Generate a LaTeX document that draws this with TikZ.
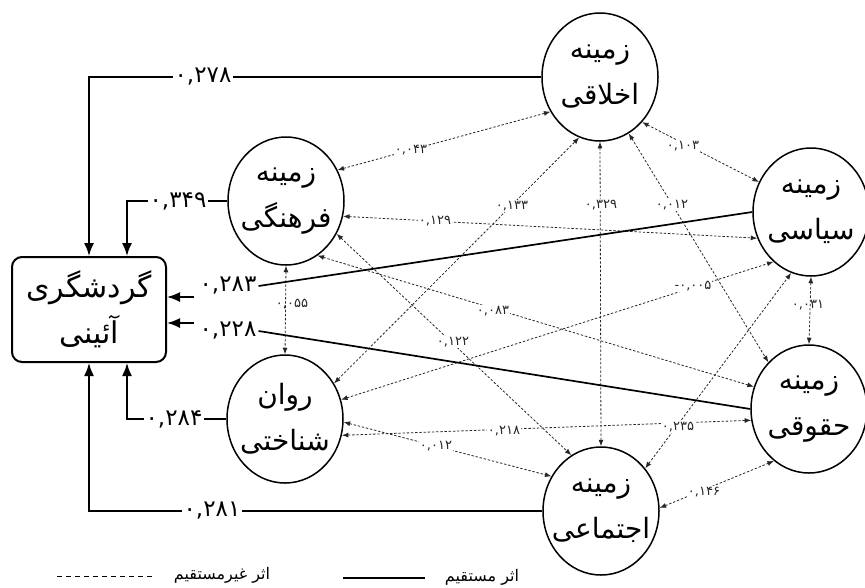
\documentclass[tikz,border=0pt]{standalone}
\usepackage{fontspec}
\usetikzlibrary{arrows.meta,shapes.geometric}
\TeXXeTstate=1
\newfontfamily\arabicfont[Script=Arabic]{DejaVu Sans}
\newcommand\farsi[1]{\beginR #1\endR}
\tikzset{
  fac/.style={ellipse, draw, line width=1.5pt, minimum width=116pt, minimum height=128pt, inner sep=0pt},
  factext/.style={inner sep=0pt, align=center, font=\arabicfont\fontsize{28}{46}\selectfont},
  mainbox/.style={rectangle, rounded corners=10pt, draw, line width=2pt, minimum width=154pt, minimum height=105pt, inner sep=0pt, align=center, font=\arabicfont\fontsize{30}{46}\selectfont},
  direct/.style={line width=1.7pt, -{Latex[length=13pt,width=10pt]}},
  directline/.style={line width=1.7pt},
  indirect/.style={line width=0.8pt, black!85, dash pattern=on 2.4pt off 1.8pt, {Latex[length=6.5pt,width=5pt]}-{Latex[length=6.5pt,width=5pt]}},
  dlab/.style={fill=white, inner sep=2pt, font=\arabicfont\fontsize{23}{23}\selectfont},
  ilab/.style={fill=white, inner sep=1pt, text=black!85, font=\arabicfont\fontsize{13}{13}\selectfont},
  ilabclear/.style={inner sep=1pt, text=black!85, font=\arabicfont\fontsize{13}{13}\selectfont},
  legtext/.style={font=\arabicfont\fontsize{16}{16}\selectfont},
}
\begin{document}
\begin{tikzpicture}[x=1pt,y=-1pt]
\useasboundingbox (0,0) rectangle (865,587);
% factor nodes
\node[fac] (A) at (600,77) {};
\node[fac] (F) at (286,201) {};
\node[fac] (S) at (811,212) {};
\node[fac] (H) at (809,409) {};
\node[fac] (E) at (601,511) {};
\node[fac] (R) at (285,419) {};
\node[factext] (At) at (A) {\farsi{زمینه}\\\farsi{اخلاقی}};
\node[factext] (Ft) at (F) {\farsi{زمینه}\\\farsi{فرهنگی}};
\node[factext] (St) at (S) {\farsi{زمینه}\\\farsi{سیاسی}};
\node[factext] (Ht) at (H) {\farsi{زمینه}\\\farsi{حقوقی}};
\node[factext] (Et) at (E) {\farsi{زمینه}\\\farsi{اجتماعی}};
\node[factext] (Rt) at (R) {\farsi{روان}\\\farsi{شناختی}};
\node[mainbox] (G) at (89,309.5) {\farsi{گردشگری}\\\farsi{آئینی}};
% indirect effects
\draw[indirect] (F.31) -- (A.215);
\draw[indirect] (F.-15) -- (S.206);
\draw[indirect] (F.-60) -- (H.158);
\draw[indirect] (F.-33) -- (E.118);
\draw[indirect] (F.south) -- (R.north);
\draw[indirect] (R.36) -- (A.251);
\draw[indirect] (A.south) -- (E.north);
\draw[indirect] (A.-63) -- (H.131);
\draw[indirect] (A.-47) -- (S.150);
\draw[indirect] (R.19) -- (S.233);
\draw[indirect] (E.44) -- (S.252);
\draw[indirect] (S.south) -- (H.north);
\draw[indirect] (E.3) -- (H.236);
\draw[indirect] (R.-16) -- (H.191);
\draw[indirect] (R.-3) -- (E.145);
% indirect labels
\node[ilab] (i043) at (411,150) {۰,۰۴۳};
\node[ilab] (i129) at (435,221) {۰,۱۲۹};
\node[ilab] (i083) at (493,311) {۰,۰۸۳};
\node[ilab] (i122) at (453,342) {۰,۱۲۲};
\node[ilabclear] (i055) at (292,304) {۰,۰۵۵};
\node[ilab] (i133) at (512,206) {۰,۱۳۳};
\node[ilab] (i329) at (601,205) {۰,۳۲۹};
\node[ilab] (i012a) at (672,205) {۰,۰۱۲};
\node[ilab] (i103) at (683,146) {۰,۱۰۳};
\node[ilab] (i005) at (693,286) {\hbox{-}\hbox{۰,۰۰۵}};
\node[ilab] (i235) at (678,427) {۰,۲۳۵};
\node[ilabclear] (i031) at (808,305) {۰,۰۳۱};
\node[ilab] (i146) at (704,492) {۰,۱۴۶};
\node[ilab] (i218) at (504,431) {۰,۲۱۸};
\node[ilab] (i012b) at (436,446) {۰,۰۱۲};
% direct effects
\draw[direct] (A.west) -| (G.north);
\draw[direct] (F.west) -| ([xshift=38pt]G.north);
\draw[direct] (E.west) -| (G.south);
\draw[direct] (R.west) -| ([xshift=38pt]G.south);
\node[dlab] (l278) at (203,77) {۰,۲۷۸};
\node[dlab] (l349) at (178,201) {۰,۳۴۹};
\node[dlab] (l284) at (174,419) {۰,۲۸۴};
\node[dlab] (l281) at (212,511) {۰,۲۸۱};
\node[dlab] (l283) at (228,286) {۰,۲۸۳};
\node[dlab] (l228) at (228,331) {۰,۲۲۸};
\draw[directline] (S.west) -- (l283.east);
\draw[directline] (H.west) -- (l228.east);
\coordinate (t283) at (194,297);
\coordinate (t228) at (194,323);
\draw[direct] (t283) -- (t283 -| G.east);
\draw[direct] (t228) -- (t228 -| G.east);
% legend
\coordinate (d1) at (57,576);
\coordinate (d2) at (152,576);
\draw[line width=0.9pt, dash pattern=on 5pt off 4pt] (d1) -- (d2);
\node[legtext] (lg1) at (222,575) {\farsi{اثر غیرمستقیم}};
\coordinate (s1) at (343,578);
\coordinate (s2) at (425,578);
\draw[line width=2.2pt] (s1) -- (s2);
\node[legtext] (lg2) at (482,577) {\farsi{اثر مستقیم}};
\end{tikzpicture}
\end{document}
